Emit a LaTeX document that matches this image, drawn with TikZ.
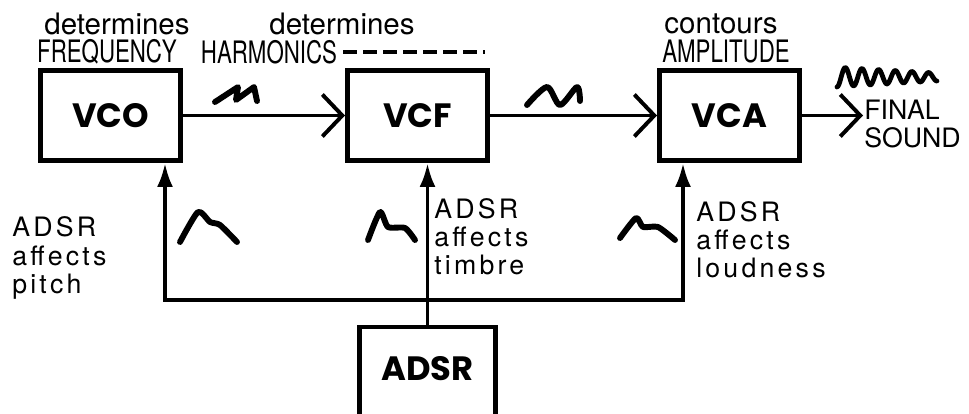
\documentclass[tikz,border=0pt]{standalone}
\usepackage{fontspec}
\setmainfont{TeX Gyre Heros}
\newfontfamily\blockfont{Poppins}
\newfontfamily\capsfont{TeX Gyre Heros}[FakeStretch=0.72]
\newfontfamily\spacedfont{TeX Gyre Heros}[LetterSpace=12]
\usetikzlibrary{arrows.meta}

\begin{document}
\begin{tikzpicture}[font=\fontsize{21}{21}\selectfont,>={Latex[length=0.6cm,width=0.4cm]},
    block/.style={draw,line width=3.5pt,minimum width=3.5cm,minimum height=2.25cm,
      font=\blockfont\bfseries\fontsize{24}{24}\selectfont},
    sig/.style={line width=2.8pt,-{Straight Barb[length=0.5cm,width=1.05cm]}},
    ctl/.style={line width=2.8pt},
    wave/.style={line width=4.2pt,line cap=round,line join=round},
    title/.style={inner sep=0pt},
    caps/.style={inner sep=0pt,font=\capsfont\fontsize{22}{22}\selectfont},
    note/.style={align=left,inner sep=0pt,font=\spacedfont\fontsize{19}{20}\selectfont}]
    \useasboundingbox (0,0) rectangle (24.225,10.325);
    \node[block] (vco) at (2.7625,7.4375) {VCO};
    \node[block] (vcf) at (10.4375,7.4375) {VCF};
    \node[block] (vca) at (18.2375,7.4375) {VCA};
    \node[block,anchor=north,minimum width=3.4cm,minimum height=2.6cm,text depth=0.5cm] (adsr) at (10.6875,2.2125) {ADSR};
    \coordinate (busl) at (4.125,2.825);
    \coordinate (busr) at (17.075,2.825);
    \coordinate (out) at (21.575,7.4375);
    \draw[ctl,<->] (vco.south -| busl) -- (busl) -- (busr) -- (vca.south -| busr);
    \draw[ctl,->] (adsr.north) -- (vcf.south -| adsr.north);
    \draw[sig] (vco) -- (vcf);
    \draw[sig] (vcf) -- (vca);
    \draw[sig] (vca) -- (out);
    \node[title] (det1) at (2.925,9.72) {determines};
    \node[caps] (freq) at (2.675,9.025) {FREQUENCY};
    \node[title] (det2) at (8.55,9.72) {determines};
    \node[caps] (harm) at (6.725,9.025) {HARMONICS};
    \coordinate (dashend) at (12.125,9.025);
    \draw[line width=2.8pt,dash pattern=on 0.33cm off 0.17cm] ([xshift=0.15cm]harm.east) -- (dashend);
    \node[title] (cont) at (18.025,9.72) {contours};
    \node[caps] (ampl) at (18.15,9.025) {AMPLITUDE};
    \node[note,anchor=west,font=\fontsize{19}{20}\selectfont] (final) at (21.6,7.225) {FINAL\\SOUND};
    \node[note,anchor=west] (pitch) at (0.3,3.875) {ADSR\\affects\\pitch};
    \node[note,anchor=west] (timbre) at (10.85,4.4) {ADSR\\affects\\timbre};
    \node[note,anchor=west] (loud) at (17.4,4.325) {ADSR\\affects\\loudness};
    \draw[wave] (5.375,7.775) -- (5.95,8.15) -- (5.9,7.825) -- (6.35,8.15) -- (6.425,7.8);
    \draw[wave] plot[smooth] coordinates {(13.175,7.7) (13.675,8.15) (14.0,7.7) (14.425,8.15) (14.5,7.8)};
    \draw[wave,line width=3.4pt] plot[domain=0:2.5,samples=100,smooth] ({20.925+\x},{8.4-(0.25-0.06*\x)*cos(\x*864)});
    \draw[wave] plot[smooth,tension=0.4] coordinates {(4.5,4.275) (4.95,5.025) (5.25,4.775) (5.5,4.7) (5.925,4.275)};
    \draw[wave] plot[smooth,tension=0.4] coordinates {(9.2,4.325) (9.5,5.025) (9.7,4.65) (10.125,4.625) (10.375,4.325)};
    \draw[wave] plot[smooth,tension=0.4] coordinates {(15.5,4.375) (15.9,4.875) (16.075,4.65) (16.45,4.65) (16.875,4.325)};
  \end{tikzpicture}
\end{document}
